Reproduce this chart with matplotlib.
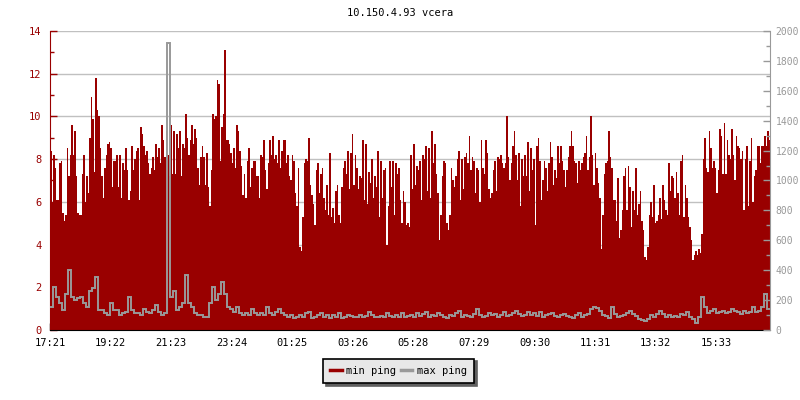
import numpy as np
import matplotlib
matplotlib.use("Agg")
import matplotlib.pyplot as plt
from matplotlib.ticker import MultipleLocator

plt.rcParams['font.family'] = ['DejaVu Sans Mono']
plt.rcParams['font.size'] = 7

title = "10.150.4.93 vcera"
start_time = "17:21"
tick_labels = ["17:21", "19:22", "21:23", "23:24", "01:25", "03:26",
               "05:28", "07:29", "09:30", "11:31", "13:32", "15:33"]

# min ping (left axis), 3 min per value
min_ping = [
    8.4, 6.0, 8.2, 7.6, 6.1, 6.1, 7.8, 7.9, 5.5, 5.1, 5.4, 8.5, 7.2, 8.2, 9.6, 8.2, 9.3, 7.2, 5.5, 5.4,
    5.4, 7.3, 8.2, 6.0, 7.2, 6.4, 9.0, 10.9, 9.9, 7.4, 11.8, 10.3, 10.0, 8.5, 7.2, 6.2, 7.6, 8.2, 8.7, 8.8,
    8.5, 6.7, 7.9, 7.9, 8.2, 6.7, 8.2, 6.2, 7.8, 7.5, 8.5, 7.5, 6.1, 6.5, 8.6, 7.5, 8.0, 8.4, 8.5, 6.1,
    9.5, 9.2, 8.6, 8.2, 8.4, 7.8, 7.3, 7.6, 8.1, 7.5, 8.7, 8.1, 8.5, 7.8, 9.6, 8.9, 8.1, 9.3, 8.2, 7.2,
    9.6, 7.3, 9.3, 7.3, 9.2, 8.5, 9.3, 7.2, 8.7, 8.5, 10.1, 9.0, 8.2, 8.9, 9.6, 8.7, 9.4, 9.0, 7.6, 6.8,
    8.1, 8.6, 8.1, 6.8, 8.3, 6.7, 5.8, 7.5, 10.1, 9.9, 10.0, 11.7, 11.5, 7.9, 9.5, 10.1, 13.1, 8.9, 8.9, 8.7,
    8.3, 7.8, 8.5, 7.6, 9.6, 9.3, 8.4, 7.7, 6.3, 7.3, 6.2, 7.9, 8.5, 6.7, 7.6, 7.9, 7.9, 7.2, 7.2, 6.2,
    8.2, 8.1, 8.9, 7.5, 6.6, 7.8, 8.9, 8.2, 9.1, 8.0, 8.2, 7.8, 8.9, 7.6, 8.4, 8.9, 8.9, 7.8, 8.2, 7.2,
    7.0, 8.2, 7.9, 6.4, 5.8, 7.6, 3.9, 3.7, 5.3, 7.8, 8.0, 7.9, 9.0, 6.8, 6.3, 5.9, 4.9, 7.5, 7.8, 6.4,
    7.3, 7.6, 6.2, 5.6, 6.8, 5.4, 8.3, 5.3, 5.7, 5.0, 6.5, 6.8, 5.4, 5.0, 6.7, 7.6, 7.9, 7.3, 8.4, 6.6,
    8.3, 9.2, 6.8, 8.2, 7.6, 6.6, 7.2, 7.1, 8.9, 6.1, 8.7, 5.9, 7.4, 6.9, 8.0, 6.2, 7.2, 6.7, 8.4, 5.3,
    7.9, 6.2, 7.5, 7.6, 4.0, 5.8, 7.9, 6.7, 7.9, 5.4, 7.8, 7.3, 7.6, 6.1, 5.0, 6.5, 6.0, 4.9, 5.0, 4.8,
    8.2, 6.6, 8.7, 6.8, 7.7, 7.5, 7.9, 6.1, 8.2, 8.0, 8.6, 6.5, 8.5, 6.2, 9.3, 7.8, 8.7, 7.3, 6.4, 4.2,
    5.4, 7.2, 7.9, 7.8, 5.0, 4.7, 5.4, 7.6, 7.0, 6.7, 7.2, 8.0, 8.4, 6.1, 8.0, 6.6, 8.1, 8.3, 7.8, 9.1,
    7.5, 8.1, 7.9, 6.4, 7.6, 7.5, 6.0, 8.9, 7.6, 7.3, 8.9, 8.3, 6.6, 6.2, 6.4, 7.5, 7.9, 6.5, 8.1, 8.0,
    8.2, 7.8, 7.6, 7.8, 10.0, 8.1, 7.0, 7.8, 8.6, 9.3, 8.2, 7.0, 8.3, 5.8, 8.0, 7.2, 8.2, 7.2, 8.8, 6.5,
    8.5, 7.5, 8.0, 4.9, 8.6, 9.0, 7.9, 6.1, 7.0, 7.9, 7.6, 6.5, 7.8, 8.8, 8.1, 6.8, 7.5, 7.1, 8.6, 7.8,
    8.6, 7.9, 7.5, 6.7, 7.5, 8.1, 8.6, 9.3, 8.6, 7.9, 7.8, 6.9, 7.9, 7.5, 7.8, 8.1, 8.3, 9.1, 7.5, 8.1,
    10.0, 8.2, 6.8, 8.3, 7.6, 6.9, 6.2, 3.8, 5.4, 7.3, 7.8, 7.9, 9.3, 8.1, 7.6, 6.1, 6.1, 5.1, 7.1, 4.3,
    4.7, 5.6, 7.2, 7.6, 5.6, 7.7, 6.7, 4.8, 6.5, 5.6, 7.6, 5.4, 5.9, 6.5, 5.1, 4.7, 3.4, 3.3, 3.9, 5.4,
    6.0, 5.3, 6.8, 5.0, 5.1, 5.4, 6.2, 5.2, 6.8, 6.1, 5.6, 5.4, 7.8, 6.5, 7.2, 7.1, 6.2, 7.4, 6.4, 5.4,
    7.9, 8.2, 5.3, 6.8, 6.2, 5.3, 4.8, 4.2, 3.3, 3.5, 3.7, 3.5, 3.8, 3.6, 4.5, 8.0, 9.0, 7.6, 7.4, 9.3,
    8.5, 7.6, 7.9, 7.6, 6.4, 7.5, 9.4, 9.1, 7.3, 9.7, 7.3, 8.9, 8.2, 8.0, 9.4, 8.2, 7.0, 9.1, 8.6, 8.5,
    8.0, 8.4, 5.6, 8.0, 8.6, 5.8, 7.9, 9.0, 6.0, 7.2, 7.5, 8.6, 8.6, 7.8, 8.6, 8.6, 9.1, 8.6, 9.3, 8.9,
]

# max ping (right axis, ms), 6 min per value
max_ping = [
    157, 286, 221, 179, 136, 243, 400, 221, 200, 214, 221, 179, 157, 264, 279, 357, 136, 136, 114, 100,
    179, 136, 136, 100, 114, 121, 221, 136, 114, 114, 100, 143, 121, 114, 136, 164, 121, 100, 114, 1921,
    221, 264, 136, 157, 179, 371, 179, 157, 114, 100, 100, 86, 86, 179, 286, 200, 243, 321, 243, 157,
    143, 121, 157, 114, 100, 114, 100, 143, 114, 100, 114, 100, 157, 114, 100, 121, 143, 114, 100, 86,
    100, 79, 86, 100, 86, 114, 121, 79, 86, 100, 114, 86, 100, 79, 100, 86, 114, 79, 86, 100,
    93, 86, 86, 100, 86, 93, 121, 100, 86, 86, 93, 86, 114, 93, 86, 100, 86, 114, 86, 93,
    100, 86, 114, 93, 107, 121, 86, 100, 93, 114, 100, 86, 79, 100, 93, 114, 129, 86, 100, 93,
    86, 107, 143, 100, 86, 93, 114, 100, 107, 86, 100, 121, 93, 100, 114, 129, 107, 93, 100, 121,
    100, 114, 93, 121, 86, 100, 107, 114, 93, 86, 100, 107, 93, 86, 79, 100, 114, 86, 100, 107,
    143, 157, 150, 129, 100, 93, 79, 157, 107, 86, 93, 100, 114, 129, 107, 93, 71, 64, 57, 71,
    100, 86, 107, 129, 107, 86, 100, 86, 93, 86, 107, 100, 121, 86, 71, 50, 86, 221, 157, 114,
    129, 143, 114, 121, 129, 114, 121, 143, 129, 121, 107, 129, 114, 121, 157, 121, 129, 157, 243, 143,
]

red = '#990000'
gray = '#999999'
span = 1440

def to_minutes(s):
    h, m = s.split(":")
    h0, m0 = start_time.split(":")
    return (int(h) * 60 + int(m) - int(h0) * 60 - int(m0)) % 1440

fig = plt.figure(figsize=(8, 4), dpi=100)
ax = fig.add_axes([0.0625, 0.175, 0.9, 0.7475])
ax2 = ax.twinx()

edges1 = np.linspace(0, span, len(min_ping) + 1)
edges2 = np.linspace(0, span, len(max_ping) + 1)
ax.stairs(min_ping, edges1, fill=True, color=red, lw=0, zorder=2)
ax2.stairs(max_ping, edges2, baseline=None, color=gray, lw=1.4)

ax.set_xlim(0, span)
ax.set_ylim(0, 14)
ax2.set_ylim(0, 2000)

ax.set_axisbelow(True)
ax.grid(axis='y', color='#c0c0c0', lw=1)
ax.yaxis.set_major_locator(MultipleLocator(2))
ax.yaxis.set_minor_locator(MultipleLocator(1))
ax2.yaxis.set_major_locator(MultipleLocator(200))
ax2.yaxis.set_minor_locator(MultipleLocator(100))

ax.set_xticks([to_minutes(t) for t in tick_labels])
ax.set_xticklabels(tick_labels)

ax.tick_params(axis='y', which='both', direction='in', colors=red, pad=6, labelsize=7.5)
ax.tick_params(axis='y', which='major', length=5, width=1)
ax.tick_params(axis='y', which='minor', length=3, width=1)
ax.tick_params(axis='x', direction='in', length=5, width=1, pad=6, colors='black', labelsize=7.5)
ax2.tick_params(axis='y', which='both', direction='in', colors=gray, pad=4)
ax2.tick_params(axis='y', which='major', length=5, width=1)
ax2.tick_params(axis='y', which='minor', length=3, width=1)

for s in ['top', 'right']:
    ax.spines[s].set_visible(False)
for s in ['top', 'left', 'bottom']:
    ax2.spines[s].set_visible(False)
ax.spines['left'].set_color(red)
ax.spines['bottom'].set_color('black')
ax2.spines['right'].set_color(gray)

fig.text(0.5, 0.9675, title, ha='center', va='center', fontsize=7.5)

handles = [plt.Line2D([], [], color=red, lw=2.5), plt.Line2D([], [], color=gray, lw=2.5)]
leg = fig.legend(handles, ["min ping", "max ping"], loc='center', bbox_to_anchor=(0.498, 0.0725),
                 ncol=2, fancybox=False, framealpha=1, facecolor='#e8e8e8', edgecolor='black',
                 handlelength=1.1, handletextpad=0.4, columnspacing=0.5, borderpad=0.7,
                 fontsize=7.5, shadow={'facecolor': '#606060', 'edgecolor': '#606060', 'alpha': 1})
leg.get_frame().set_linewidth(1.2)

fig.savefig("out.png", dpi=100)
